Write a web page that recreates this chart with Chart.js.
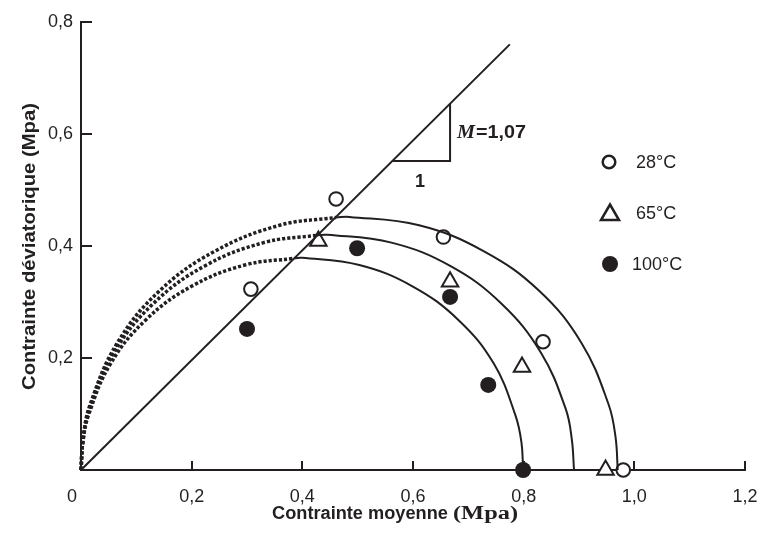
<!DOCTYPE html>
<html>
<head>
<meta charset="utf-8">
<script src="https://cdn.jsdelivr.net/npm/chart.js@4/dist/chart.umd.min.js"></script>
<style>
html,body{margin:0;padding:0;background:#fff;}
canvas{display:block;}
</style>
</head>
<body>
<canvas id="c" width="762" height="533"></canvas>
<script>
// ---- data ----
const xTicks = [0, 0.2, 0.4, 0.6, 0.8, 1.0, 1.2];
const yTicks = [0.2, 0.4, 0.6, 0.8];

const series = ['28°C', '65°C', '100°C'];
const p28 = [0.307, 0.461, 0.655, 0.835, 0.980];
const q28 = [0.323, 0.484, 0.416, 0.229, 0.000];
const p65 = [0.429, 0.667, 0.797, 0.948];
const q65 = [0.409, 0.336, 0.184, 0.000];
const p100 = [0.300, 0.499, 0.667, 0.736, 0.799];
const q100 = [0.252, 0.396, 0.309, 0.152, 0.000];

// critical state line (M = 1,07) and slope triangle
const cslP = [0, 0.775];
const cslQ = [0, 0.760];
const slopeP = [0.564, 0.667, 0.667];
const slopeQ = [0.552, 0.552, 0.654];

// yield curves: dashed part (origin -> CSL) and solid part (CSL -> p0)
const outerDashP  = [0, 0.0042, 0.0165, 0.065, 0.142, 0.2425, 0.359, 0.461];
const outerDashQ  = [0, 0.059, 0.117, 0.226, 0.320, 0.391, 0.437, 0.451];
const outerSolidP = [0.461, 0.485, 0.611, 0.7275, 0.828, 0.905, 0.9535, 0.966, 0.970];
const outerSolidQ = [0.451, 0.452, 0.437, 0.391, 0.320, 0.226, 0.117, 0.059, 0];

const midDashP  = [0, 0.0038, 0.0152, 0.0597, 0.1305, 0.2228, 0.330, 0.425];
const midDashQ  = [0, 0.0548, 0.109, 0.210, 0.297, 0.364, 0.406, 0.419];
const midSolidP = [0.425, 0.4455, 0.561, 0.668, 0.760, 0.831, 0.876, 0.887, 0.891];
const midSolidQ = [0.419, 0.420, 0.406, 0.364, 0.297, 0.210, 0.109, 0.0548, 0];

const inDashP  = [0, 0.0034, 0.0136, 0.0535, 0.117, 0.19975, 0.296, 0.386];
const inDashQ  = [0, 0.0495, 0.098, 0.190, 0.268, 0.328, 0.366, 0.378];
const inSolidP = [0.386, 0.3995, 0.503, 0.599, 0.682, 0.746, 0.785, 0.796, 0.799];
const inSolidQ = [0.378, 0.379, 0.366, 0.328, 0.268, 0.190, 0.098, 0.0495, 0];

// ---- chart ----
const INK = '#231f20';
const SANS = "'Liberation Sans', Arial, sans-serif";
const SERIF = "'Liberation Serif', 'Times New Roman', serif";
const zip = (xs, ys) => xs.map((x, i) => ({x: x, y: ys[i]}));
const fmt = v => v.toFixed(1).replace('.', ',');

function lineDs(xs, ys, dashed) {
  return {
    type: 'scatter', data: zip(xs, ys), showLine: true, tension: dashed === 'straight' ? 0 : 0.4,
    borderColor: INK, borderWidth: dashed === true ? 3.5 : 2, borderDash: dashed === true ? [3.2, 2] : [],
    pointRadius: 0, pointHoverRadius: 0, clip: false, fill: false
  };
}
function markerDs(xs, ys, style, filled, r) {
  return {
    type: 'scatter', data: zip(xs, ys), showLine: false,
    pointStyle: style, pointRadius: r, pointHoverRadius: r,
    backgroundColor: filled ? INK : '#fff', borderColor: INK, borderWidth: filled ? 0 : 2,
    clip: false
  };
}

function drawStretched(ctx, text, font, x, y, width) {
  ctx.save();
  ctx.font = font;
  const w = ctx.measureText(text).width;
  ctx.translate(x, y);
  if (width) ctx.scale(width / w, 1);
  ctx.fillText(text, 0, 0);
  ctx.restore();
}

const decor = {
  id: 'decor',
  afterDraw(chart) {
    const ctx = chart.ctx;
    const xs = chart.scales.x, ys = chart.scales.y;
    const ca = chart.chartArea;
    ctx.save();
    ctx.strokeStyle = INK; ctx.fillStyle = INK; ctx.lineWidth = 2;
    // inward tick marks
    yTicks.forEach(v => {
      const py = Math.round(ys.getPixelForValue(v));
      ctx.beginPath(); ctx.moveTo(ca.left, py); ctx.lineTo(ca.left + 11, py); ctx.stroke();
    });
    xTicks.slice(1).forEach(v => {
      const px = Math.round(xs.getPixelForValue(v));
      ctx.beginPath(); ctx.moveTo(px, ca.bottom); ctx.lineTo(px, ca.bottom - 9); ctx.stroke();
    });
    // origin label
    ctx.font = '18px ' + SANS; ctx.textAlign = 'center'; ctx.textBaseline = 'middle';
    ctx.fillText('0', ca.left - 9, ca.bottom + 27);
    // axis titles
    ctx.textAlign = 'left'; ctx.textBaseline = 'alphabetic';
    drawStretched(ctx, 'Contrainte moyenne ', 'bold 18px ' + SANS, 272, 519, 181);
    drawStretched(ctx, '(Mpa)', 'bold 18px ' + SERIF, 453, 519, 65);
    ctx.save();
    ctx.translate(34.5, 390); ctx.rotate(-Math.PI / 2);
    drawStretched(ctx, 'Contrainte déviatorique (Mpa)', 'bold 18px ' + SANS, 0, 0, 287);
    ctx.restore();
    // slope annotation
    drawStretched(ctx, 'M', 'bold italic 18px ' + SERIF, 457, 138, 18);
    drawStretched(ctx, '=1,07', 'bold 18px ' + SANS, 476, 138, 50);
    ctx.textAlign = 'center';
    ctx.font = 'bold 18px ' + SANS;
    ctx.fillText('1', 420, 187);
    // legend
    const lx = 609, ly = [162, 213, 264];
    ctx.lineWidth = 2.5;
    ctx.beginPath(); ctx.arc(lx, ly[0], 6.3, 0, Math.PI * 2); ctx.fillStyle = '#fff'; ctx.fill(); ctx.stroke();
    ctx.beginPath();
    ctx.moveTo(lx + 1, ly[1] - 8.5); ctx.lineTo(lx + 10, ly[1] + 7); ctx.lineTo(lx - 8, ly[1] + 7); ctx.closePath();
    ctx.stroke();
    ctx.fillStyle = INK;
    ctx.beginPath(); ctx.arc(lx + 1, ly[2], 8, 0, Math.PI * 2); ctx.fill();
    ctx.font = '18px ' + SANS; ctx.textAlign = 'left'; ctx.textBaseline = 'middle';
    ctx.fillText(series[0], 636, ly[0] + 1);
    ctx.fillText(series[1], 636, ly[1] + 1);
    ctx.fillText(series[2], 632, ly[2] + 1);
    ctx.restore();
  }
};

new Chart(document.getElementById('c'), {
  type: 'scatter',
  data: {
    datasets: [
      lineDs(cslP, cslQ, 'straight'),
      lineDs(slopeP, slopeQ, 'straight'),
      lineDs(outerDashP, outerDashQ, true),
      lineDs(midDashP, midDashQ, true),
      lineDs(inDashP, inDashQ, true),
      lineDs(outerSolidP, outerSolidQ, false),
      lineDs(midSolidP, midSolidQ, false),
      lineDs(inSolidP, inSolidQ, false),
      markerDs(p28, q28, 'circle', false, 6.8),
      markerDs(p65, q65, 'triangle', false, 9.5),
      markerDs(p100, q100, 'circle', true, 8)
    ]
  },
  options: {
    responsive: false, animation: false, devicePixelRatio: 1,
    layout: {padding: {top: 22, right: 17, left: 0, bottom: 0}},
    plugins: {legend: {display: false}, tooltip: {enabled: false}},
    events: [],
    scales: {
      x: {
        type: 'linear', min: 0, max: 1.2,
        afterBuildTicks: s => { s.ticks = xTicks.map(v => ({value: v})); },
        afterFit: s => { s.height = 63; s.paddingLeft = 0; s.paddingRight = 0; },
        ticks: {callback: v => v === 0 ? '' : fmt(v), color: INK, font: {family: SANS, size: 18}, padding: 16, maxRotation: 0, autoSkip: false},
        grid: {display: false, drawTicks: false},
        border: {display: true, color: INK, width: 2}
      },
      y: {
        type: 'linear', min: 0, max: 0.8,
        afterBuildTicks: s => { s.ticks = [0].concat(yTicks).map(v => ({value: v})); },
        afterFit: s => { s.width = 81; s.paddingTop = 0; s.paddingBottom = 0; },
        ticks: {callback: v => v === 0 ? '' : fmt(v), color: INK, font: {family: SANS, size: 18}, padding: 8, autoSkip: false},
        grid: {display: false, drawTicks: false},
        border: {display: true, color: INK, width: 2}
      }
    }
  },
  plugins: [decor]
});
</script>
</body>
</html>
